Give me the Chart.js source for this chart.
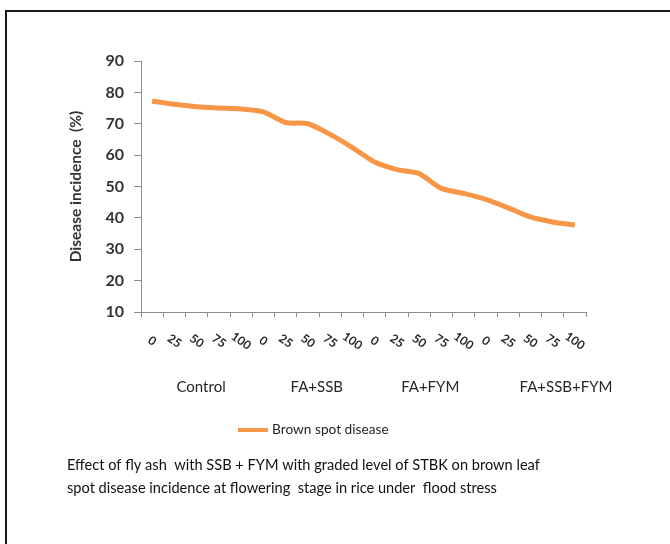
<!DOCTYPE html>
<html>
<head>
<meta charset="utf-8">
<script src="https://cdn.jsdelivr.net/npm/chart.js@4.4.0/dist/chart.umd.min.js"></script>
<style>
  html, body { margin: 0; padding: 0; background: #fff; }
  #marco {
    position: absolute; left: 5px; top: 10px; width: 700px; height: 560px;
    border-top: 2px solid #1a1a1a; border-left: 2px solid #1a1a1a;
  }
  #caja { position: absolute; left: 0; top: 0; width: 670px; height: 544px; }
</style>
</head>
<body>
<div id="marco"></div>
<div id="caja"><canvas id="grafico" width="670" height="544"></canvas></div>
<script>
// datos
const dosis = ['0', '25', '50', '75', '100', '0', '25', '50', '75', '100',
               '0', '25', '50', '75', '100', '0', '25', '50', '75', '100'];
const tratamientos = ['Control', 'FA+SSB', 'FA+FYM', 'FA+SSB+FYM'];
const posTratamiento = [2.2, 7.4, 12.5, 18.6]; // indice de categoria donde va cada rotulo
const manchaParda = [77.2, 76.2, 75.4, 75.0, 74.7, 73.8, 70.4, 70.0, 66.6, 62.4,
                     57.8, 55.4, 54.1, 49.4, 47.8, 45.9, 43.2, 40.3, 38.7, 37.7];
const ticksY = [10, 20, 30, 40, 50, 60, 70, 80, 90];
const pie = [
  'Effect of fly ash  with SSB + FYM with graded level of STBK on brown leaf',
  'spot disease incidence at flowering  stage in rice under  flood stress'
];

const fuente = 'Lato, "Open Sans", sans-serif';
const naranja = '#f79646';
const gris = '#8c8c8c';

// rotulos del eje x, leyenda y pie de figura
const rotulos = {
  id: 'rotulos',
  afterDraw(chart) {
    const c = chart.ctx;
    const x = chart.scales.x;
    c.save();
    c.fillStyle = '#262626';
    c.font = 'bold 12px ' + fuente;
    c.textAlign = 'center';
    c.textBaseline = 'middle';
    dosis.forEach((d, i) => {
      c.save();
      c.translate(x.getPixelForValue(i), 341);
      c.rotate(35 * Math.PI / 180);
      c.fillText(d, 0, 0);
      c.restore();
    });

    c.font = '15px ' + fuente;
    tratamientos.forEach((t, i) => {
      c.fillText(t, x.getPixelForValue(posTratamiento[i]), 387);
    });

    // leyenda
    c.strokeStyle = naranja;
    c.lineWidth = 4;
    c.beginPath();
    c.moveTo(238, 430);
    c.lineTo(268, 430);
    c.stroke();
    c.textAlign = 'left';
    c.font = '13.7px ' + fuente;
    c.fillText(chart.data.datasets[0].label, 272, 430);

    c.font = '14.6px ' + fuente;
    c.fillStyle = '#111';
    pie.forEach((l, i) => c.fillText(l, 67, 465 + i * 23));
    c.restore();
  }
};

new Chart(document.getElementById('grafico'), {
  type: 'line',
  data: {
    labels: dosis.map((d, i) => i),
    datasets: [{
      label: 'Brown spot disease',
      data: manchaParda,
      borderColor: naranja,
      backgroundColor: naranja,
      borderWidth: 5,
      pointRadius: 0,
      tension: 0.25
    }]
  },
  options: {
    responsive: false,
    animation: false,
    layout: { padding: { left: 62, top: 61, right: 84, bottom: 212 } },
    plugins: { legend: { display: false }, tooltip: { enabled: false } },
    scales: {
      x: {
        offset: true,
        afterFit(s) { s.height = 20; },
        grid: { offset: true, drawOnChartArea: false, drawTicks: true, tickLength: 5, color: gris },
        border: { color: gris },
        ticks: { display: false }
      },
      y: {
        min: 10, max: 90,
        afterFit(s) { s.width = 79; },
        afterBuildTicks(s) { s.ticks = ticksY.map(v => ({ value: v })); },
        grid: { drawOnChartArea: false, drawTicks: true, tickLength: 7, color: gris },
        border: { color: gris },
        ticks: { color: '#333', padding: 10, font: { family: fuente, size: 16, weight: 'bold' } },
        title: {
          display: true, text: 'Disease incidence  (%)', color: '#333',
          padding: 5, font: { family: fuente, size: 15.5, weight: 'bold' }
        }
      }
    }
  },
  plugins: [rotulos]
});
</script>
</body>
</html>
